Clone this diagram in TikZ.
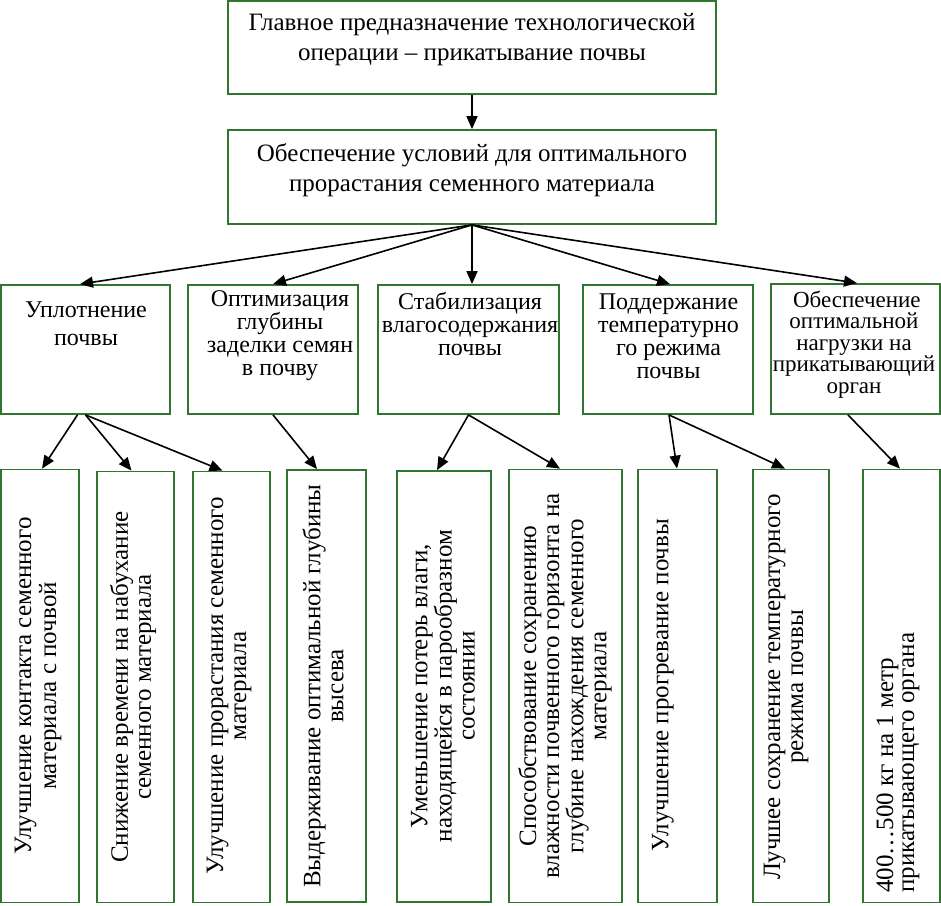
\documentclass[tikz,border=0pt]{standalone}
\usepackage{fontspec}
\setmainfont{Liberation Serif}
\usetikzlibrary{arrows.meta}
\definecolor{boxgreen}{RGB}{48,118,48}
\tikzset{
  box/.style={draw=boxgreen, line width=1.8pt, inner sep=0pt, fill=white},
  txt/.style={inner sep=0pt, align=center, font=\fontsize{24}{23}\selectfont},
  vtxt/.style={inner sep=0pt, align=center, rotate=90, font=\fontsize{25}{23}\selectfont},
  arr/.style={line width=1.6pt, -{Triangle[length=13pt,width=11pt]}}
}
\begin{document}
\begin{tikzpicture}[x=1pt,y=-1pt]
\useasboundingbox (0,0) rectangle (941,905);
% top boxes
\node[box, minimum width=488, minimum height=93] (top) at (472,47.5) {};
\node[box, minimum width=488, minimum height=94] (mid) at (472,177) {};
\node[txt, font=\fontsize{25}{30}\selectfont] (ttop) at (472,40) {Главное предназначение технологической\\операции – прикатывание почвы};
\node[txt, font=\fontsize{25}{30}\selectfont] (tmid) at (472,170) {Обеспечение условий для оптимального\\прорастания семенного материала};
% row 1
\node[box, minimum width=169, minimum height=129] (a1) at (85.5,349.5) {};
\node[box, minimum width=170, minimum height=129] (a2) at (273,349.5) {};
\node[box, minimum width=181, minimum height=129] (a3) at (468.5,349.5) {};
\node[box, minimum width=170, minimum height=129] (a4) at (668,349.5) {};
\node[box, minimum width=169, minimum height=130] (a5) at (855.5,349) {};
\node[txt, font=\fontsize{24}{28}\selectfont] (ta1) at (86,324) {Уплотнение\\почвы};
\node[txt] (ta2) at (280,335.5) {Оптимизация\\глубины\\заделки семян\\в почву};
\node[txt] (ta3) at (470,324) {Стабилизация\\влагосодержания\\почвы};
\node[txt] (ta4) at (668.5,336) {Поддержание\\температурно\\го режима\\почвы};
\node[txt, font=\fontsize{23}{21.5}\selectfont] (ta5) at (854,344.5) {\ Обеспечение\\оптимальной\\нагрузки на\\прикатывающий\\орган};
% row 2
\node[box, minimum width=78, minimum height=433] (b1) at (40,686) {};
\node[box, minimum width=77, minimum height=431] (b2) at (135.5,687) {};
\node[box, minimum width=77, minimum height=431] (b3) at (231.5,687) {};
\node[box, minimum width=79, minimum height=432] (b4) at (326.5,686) {};
\node[box, minimum width=94, minimum height=431] (b5) at (444,686.5) {};
\node[box, minimum width=113, minimum height=433] (b6) at (565.5,686) {};
\node[box, minimum width=79, minimum height=433] (b7) at (677.5,686) {};
\node[box, minimum width=76, minimum height=433] (b8) at (791,686) {};
\node[box, minimum width=77, minimum height=433] (b9) at (901.5,686) {};
\node[vtxt, font=\fontsize{25}{25}\selectfont] (tb1) at (38,686) {Улучшение контакта семенного\\материала с почвой};
\node[vtxt] (tb2) at (133,687) {Снижение времени на набухание\\семенного материала};
\node[vtxt] (tb3) at (229,686) {Улучшение прорастания семенного\\материала};
\node[vtxt] (tb4) at (323,686) {Выдерживание оптимальной глубины\\высева};
\node[vtxt] (tb5) at (443,686) {Уменьшение потерь влаги,\\находящейся в парообразном\\состоянии};
\node[vtxt] (tb6) at (565,686) {Способствование сохранению\\влажности почвенного горизонта на\\глубине нахождения семенного\\материала};
\node[vtxt] (tb7) at (663,685) {Улучшение прогревание почвы};
\node[vtxt] (tb8) at (786,687) {Лучшее сохранение температурного\\режима почвы};
\node[vtxt, align=left, anchor=west, font=\fontsize{25}{21}\selectfont] (tb9) at (898,893) {400…500 кг на 1 метр\\прикатывающего органа};
% arrows
\draw[arr] (top.south) -- (mid.north);
\draw[arr] (mid.south) -- ([xshift=-5.5pt]a1.north);
\draw[arr] (mid.south) -- (a2.north);
\draw[arr] (mid.south) -- ([xshift=3.5pt]a3.north);
\draw[arr] (mid.south) -- ([xshift=2pt]a4.north);
\draw[arr] (mid.south) -- ([xshift=1.5pt]a5.north);
\draw[arr] ([xshift=-8pt]a1.south) -- ([xshift=2pt]b1.north);
\draw[arr] ([xshift=0pt]a1.south) -- ([xshift=-4pt]b2.north);
\draw[arr] ([xshift=0pt]a1.south) -- ([xshift=-9pt]b3.north);
\draw[arr] (a2.south) -- ([xshift=-9.5pt]b4.north);
\draw[arr] (a3.south) -- ([xshift=-7pt]b5.north);
\draw[arr] (a3.south) -- ([xshift=-5.5pt]b6.north);
\draw[arr] ([xshift=1pt]a4.south) -- ([xshift=-0.5pt]b7.north);
\draw[arr] ([xshift=1pt]a4.south) -- ([xshift=-6pt]b8.north);
\draw[arr] ([xshift=-7.5pt]a5.south) -- ([xshift=-1.5pt]b9.north);
\end{tikzpicture}
\end{document}
